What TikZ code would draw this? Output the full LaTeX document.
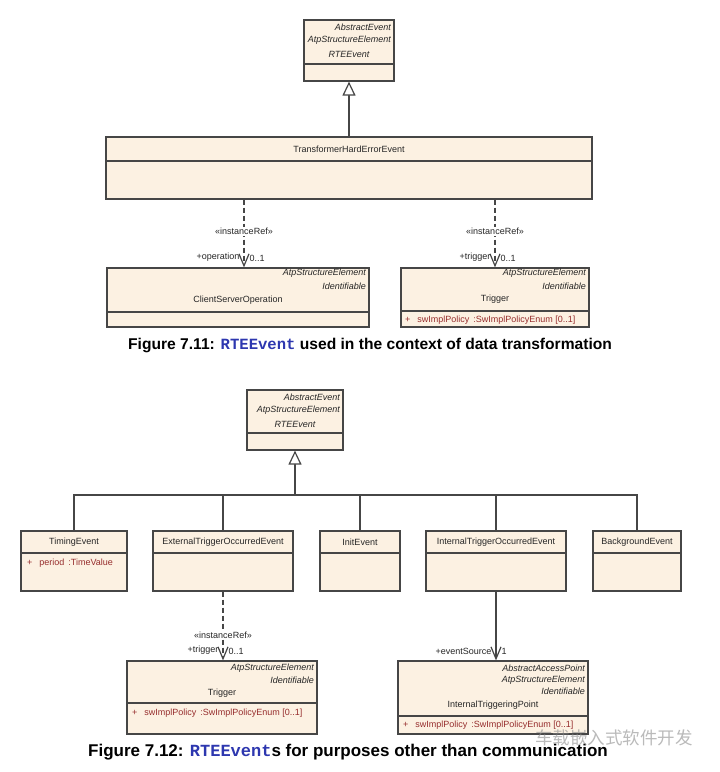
\documentclass[tikz,border=0pt]{standalone}
\usepackage{fontspec}
\setmainfont{Liberation Sans}
\setmonofont{Liberation Mono}
\newfontfamily\cjk{Noto Sans CJK SC}
\usetikzlibrary{arrows.meta}

\definecolor{keret}{RGB}{70,70,70}
\definecolor{hatter}{RGB}{252,241,226}
\definecolor{bordo}{RGB}{150,45,45}
\definecolor{kek}{RGB}{45,55,175}

% osztaly doboz: nev, bal, felso, jobb, also
\newcommand{\osztalydoboz}[5]{%
\node[osztaly, minimum width={(#4-#2)*1pt}, minimum height={(#5-#3)*1pt}] (#1) at ({(#2+#4)/2},{(#3+#5)/2}) {};}

\begin{document}
\begin{tikzpicture}[x=1pt,y=-1pt,
osztaly/.style={rectangle,draw=keret,fill=hatter,line width=1.2pt,inner sep=0pt},
szoveg/.style={font=\fontsize{9}{11}\selectfont,text=black!85,inner sep=0pt},
sztereo/.style={szoveg,font=\fontsize{9}{11}\selectfont\itshape,anchor=east},
tulajd/.style={szoveg,text=bordo,anchor=west},
vonal/.style={draw=keret,line width=1.2pt},
cimke/.style={font=\fontsize{15.6}{18}\selectfont\bfseries,inner sep=0pt,anchor=west}
]
\useasboundingbox (0,0) rectangle (720,772);

% Figure 7.11
\osztalydoboz{rte1}{304}{20}{394}{81}
\draw[vonal] (rte1.west |- 0,64) -- (rte1.east |- 0,64);
\node[sztereo](rte1a) at (391,27){AbstractEvent};
\node[sztereo](rte1b) at (391,40){AtpStructureElement};
\node[szoveg,font=\fontsize{9}{11}\selectfont\itshape](rte1c) at (349,54){RTEEvent};

\osztalydoboz{thee}{106}{137}{592}{199}
\draw[vonal] (thee.west |- 0,161) -- (thee.east |- 0,161);
\node[szoveg](thee1) at (349,149){TransformerHardErrorEvent};

\osztalydoboz{csoop}{107}{268}{369}{327}
\draw[vonal] (csoop.west |- 0,312) -- (csoop.east |- 0,312);
\node[sztereo](csoop1) at (366,273){AtpStructureElement};
\node[sztereo](csoop2) at (366,286){Identifiable};
\node[szoveg](csoop3) at (238,300){ClientServerOperation};

\osztalydoboz{trig1}{401}{268}{589}{327}
\draw[vonal] (trig1.west |- 0,311) -- (trig1.east |- 0,311);
\node[sztereo](trig1a) at (586,273){AtpStructureElement};
\node[sztereo](trig1b) at (586,286){Identifiable};
\node[szoveg](trig1c) at (495,299){Trigger};
\node[tulajd](trig1d) at (405,320){+\hspace{7pt}swImplPolicy\hspace{4pt}:SwImplPolicyEnum [0..1]};

\node[cimke](abra1) at (128,345){Figure 7.11: \textcolor{kek}{\texttt{RTEEvent}} used in the context of data transformation};

% Figure 7.12
\osztalydoboz{rte2}{247}{390}{343}{450}
\draw[vonal] (rte2.west |- 0,433) -- (rte2.east |- 0,433);
\node[sztereo](rte2a) at (340,397){AbstractEvent};
\node[sztereo](rte2b) at (340,410){AtpStructureElement};
\node[szoveg,font=\fontsize{9}{11}\selectfont\itshape](rte2c) at (295,424){RTEEvent};

\osztalydoboz{timing}{21}{531}{127}{591}
\osztalydoboz{ext}{153}{531}{293}{591}
\osztalydoboz{init}{320}{531}{400}{591}
\osztalydoboz{internal}{426}{531}{566}{591}
\osztalydoboz{backg}{593}{531}{681}{591}
\foreach \n in {timing,ext,init,internal,backg}
  \draw[vonal] (\n.west |- 0,553) -- (\n.east |- 0,553);
\node[szoveg](timing1) at (74,542){TimingEvent};
\node[tulajd](timing2) at (27,563){+\hspace{7pt}period\hspace{4pt}:TimeValue};
\node[szoveg](ext1) at (223,542){ExternalTriggerOccurredEvent};
\node[szoveg](init1) at (360,542){InitEvent};
\node[szoveg](internal1) at (496,542){InternalTriggerOccurredEvent};
\node[szoveg](backg1) at (637,542){BackgroundEvent};

\osztalydoboz{trig2}{127}{661}{317}{734}
\draw[vonal] (trig2.west |- 0,703) -- (trig2.east |- 0,703);
\node[sztereo](trig2a) at (314,668){AtpStructureElement};
\node[sztereo](trig2b) at (314,680){Identifiable};
\node[szoveg](trig2c) at (222,693){Trigger};
\node[tulajd](trig2d) at (132,713){+\hspace{7pt}swImplPolicy\hspace{4pt}:SwImplPolicyEnum [0..1]};

\osztalydoboz{itp}{398}{661}{588}{734}
\draw[vonal] (itp.west |- 0,716) -- (itp.east |- 0,716);
\node[sztereo](itp1) at (585,668){AbstractAccessPoint};
\node[sztereo](itp2) at (585,680){AtpStructureElement};
\node[sztereo](itp3) at (585,691){Identifiable};
\node[szoveg](itp4) at (493,705){InternalTriggeringPoint};
\node[tulajd](itp5) at (403,725){+\hspace{7pt}swImplPolicy\hspace{4pt}:SwImplPolicyEnum [0..1]};

\node[cimke,font=\fontsize{17}{19}\selectfont\bfseries](abra2) at (88,752){Figure 7.12: \textcolor{kek}{\texttt{RTEEvent}}s for purposes other than communication};

\coordinate (elag) at (295,495);

\begin{scope}[vonal]
% generalizacio
\draw[-{Triangle[length=14pt,width=13pt,fill=white]}] (thee.north) -- (rte1.south);
\draw[-{Triangle[length=14pt,width=13pt,fill=white]}] (elag) -- (rte2.south);
\foreach \n in {timing,ext,init,internal,backg}
  \draw (\n.north) |- (elag);
% instanceRef
\begin{scope}[-{Straight Barb[length=12pt,width=10pt]},dash pattern=on 5pt off 3pt]
\draw ([xshift=6pt]csoop.north |- thee.south) -- ([xshift=6pt]csoop.north)
  node[pos=.47,szoveg,fill=white,inner sep=1pt]{\guillemotleft instanceRef\guillemotright}
  node[pos=1,szoveg,anchor=south east,xshift=-4pt,yshift=5pt]{+operation}
  node[pos=1,szoveg,anchor=south west,xshift=5pt,yshift=5pt]{0..1};
\draw (trig1.north |- thee.south) -- (trig1.north)
  node[pos=.47,szoveg,fill=white,inner sep=1pt]{\guillemotleft instanceRef\guillemotright}
  node[pos=1,szoveg,anchor=south east,xshift=-4pt,yshift=5pt]{+trigger}
  node[pos=1,szoveg,anchor=south west,xshift=5pt,yshift=5pt]{0..1};
\draw (ext.south) -- (ext.south |- trig2.north)
  node[pos=.63,szoveg,fill=white,inner sep=1pt]{\guillemotleft instanceRef\guillemotright}
  node[pos=1,szoveg,anchor=south east,xshift=-4pt,yshift=5pt]{+trigger}
  node[pos=1,szoveg,anchor=south west,xshift=5pt,yshift=5pt]{0..1};
\end{scope}
\draw[-{Straight Barb[length=12pt,width=10pt]}] (internal.south) -- (internal.south |- itp.north)
  node[pos=1,szoveg,anchor=south east,xshift=-4pt,yshift=5pt]{+eventSource}
  node[pos=1,szoveg,anchor=south west,xshift=5pt,yshift=5pt]{1};
\end{scope}

\node[font=\cjk\fontsize{17.5}{20}\selectfont,text=black!45,opacity=.6,anchor=west,inner sep=0pt](vizjel) at (535,738){车载嵌入式软件开发};
\end{tikzpicture}
\end{document}
